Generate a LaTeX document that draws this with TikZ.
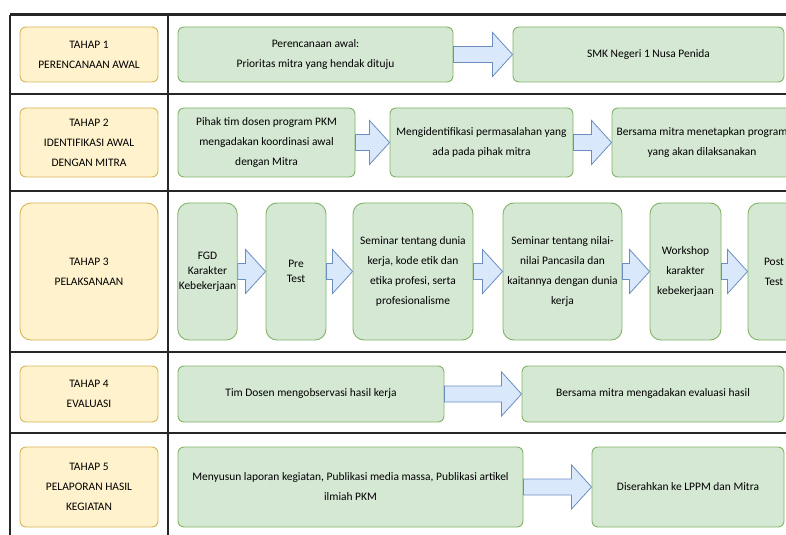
\documentclass[tikz,border=0pt]{standalone}
\usepackage{fontspec}
\setmainfont{Carlito}
\usetikzlibrary{positioning,calc}
\definecolor{stagefill}{HTML}{FFF2CC}
\definecolor{stageline}{HTML}{D6B656}
\definecolor{stepfill}{HTML}{D5E8D4}
\definecolor{stepline}{HTML}{82B366}
\definecolor{arrfill}{HTML}{DAE8FC}
\definecolor{arrline}{HTML}{6C8EBF}
\definecolor{gridline}{HTML}{262626}
\tikzset{boxbase/.style={draw, line width=0.9pt, align=center, inner sep=1bp,
    font=\fontsize{11.5}{20}\selectfont, rounded corners=6bp}}
\tikzset{stage/.style={boxbase, fill=stagefill, draw=stageline, minimum width=138bp}}
\tikzset{stepbox/.style={boxbase, fill=stepfill, draw=stepline}}
\tikzset{tall/.style={rounded corners=11bp}}
\tikzset{tight/.style={font=\fontsize{11.5}{15}\selectfont}}
\tikzset{grid/.style={draw=gridline, line width=2bp}}
\tikzset{flowarr/.style={draw=arrline, fill=arrfill, line width=0.8pt}}
% block arrow from the east side of #1 to the west side of #2
\newcommand{\flowarrow}[2]{%
  \path let \p1=(#1.east), \p2=(#2.west) in [flowarr]
    (\x1,{\y1+8bp}) -- ({\x2-20bp},{\y1+8bp}) -- ({\x2-20bp},{\y1+22bp}) --
    (\x2,\y1) -- ({\x2-20bp},{\y1-22bp}) -- ({\x2-20bp},{\y1-8bp}) --
    (\x1,{\y1-8bp}) -- cycle;}

\begin{document}
\begin{tikzpicture}[x=1bp, y=-1bp]
  \useasboundingbox (0,0) rectangle (786,535);
  \clip (0,0) rectangle (786,535);
  % table
  \draw[grid, line width=3bp] (10,15) -- (800,15);
  \draw[grid] (10,15) -- (10,540);
  \draw[grid] (168,15) -- (168,540);
  \foreach \ry in {94,191,352,433}
    \draw[grid] (10,\ry) -- (800,\ry);
  % tahap 1
  \node[stage, minimum height=55bp] (t1) at (89,54.5) {TAHAP 1\\PERENCANAAN AWAL};
  \node[stepbox, minimum width=275bp, minimum height=55bp] (p1a) at (315.5,54.5)
    {Perencanaan awal:\\Prioritas mitra yang hendak dituju};
  \node[stepbox, minimum width=271bp, minimum height=55bp] (p1b) at (648.5,54.5)
    {SMK Negeri 1 Nusa Penida};
  \flowarrow{p1a}{p1b}
  % tahap 2
  \node[stage, minimum height=69bp] (t2) at (89,142.5) {TAHAP 2\\IDENTIFIKASI AWAL\\DENGAN MITRA};
  \node[stepbox, minimum width=177bp, minimum height=69bp] (p2a) at (266.5,142.5)
    {Pihak tim dosen program PKM\\mengadakan koordinasi awal\\dengan Mitra};
  \node[stepbox, minimum width=183bp, minimum height=69bp] (p2b) at (481.5,142.5)
    {Mengidentifikasi permasalahan yang\\ada pada pihak mitra};
  \node[stepbox, minimum width=180bp, minimum height=69bp] (p2c) at (702,142.5)
    {Bersama mitra menetapkan program\\yang akan dilaksanakan};
  \flowarrow{p2a}{p2b}
  \flowarrow{p2b}{p2c}
  % tahap 3
  \node[stage, tall, minimum height=137bp] (t3) at (89,271.5) {TAHAP 3\\PELAKSANAAN};
  \node[stepbox, tall, tight, minimum width=59bp, minimum height=137bp] (fgd) at (207.5,271.5)
    {FGD\\Karakter\\Kebekerjaan};
  \node[stepbox, tall, tight, minimum width=60bp, minimum height=137bp] (pre) at (296,271.5)
    {Pre\\Test};
  \node[stepbox, tall, minimum width=120bp, minimum height=137bp] (sem1) at (413,271.5)
    {Seminar tentang dunia\\kerja, kode etik dan\\etika profesi, serta\\profesionalisme};
  \node[stepbox, tall, minimum width=119bp, minimum height=137bp] (sem2) at (562.5,271.5)
    {Seminar tentang nilai-\\nilai Pancasila dan\\kaitannya dengan dunia\\kerja};
  \node[stepbox, tall, minimum width=71bp, minimum height=137bp] (ws) at (685.5,271.5)
    {Workshop\\karakter\\kebekerjaan};
  \node[stepbox, tall, minimum width=52bp, minimum height=137bp] (post) at (774,271.5)
    {Post\\Test};
  \flowarrow{fgd}{pre}
  \flowarrow{pre}{sem1}
  \flowarrow{sem1}{sem2}
  \flowarrow{sem2}{ws}
  \flowarrow{ws}{post}
  % tahap 4
  \node[stage, minimum height=56bp] (t4) at (89,394) {TAHAP 4\\EVALUASI};
  \node[stepbox, minimum width=266bp, minimum height=56bp] (p4a) at (311,394)
    {Tim Dosen mengobservasi hasil kerja};
  \node[stepbox, minimum width=262bp, minimum height=56bp] (p4b) at (653,394)
    {Bersama mitra mengadakan evaluasi hasil};
  \flowarrow{p4a}{p4b}
  % tahap 5
  \node[stage, minimum height=80bp] (t5) at (89,487) {TAHAP 5\\PELAPORAN HASIL\\KEGIATAN};
  \node[stepbox, minimum width=345bp, minimum height=80bp] (p5a) at (350.5,487)
    {Menyusun laporan kegiatan, Publikasi media massa, Publikasi artikel\\ilmiah PKM};
  \node[stepbox, minimum width=192bp, minimum height=80bp] (p5b) at (688,487)
    {Diserahkan ke LPPM dan Mitra};
  \flowarrow{p5a}{p5b}
\end{tikzpicture}
\end{document}
